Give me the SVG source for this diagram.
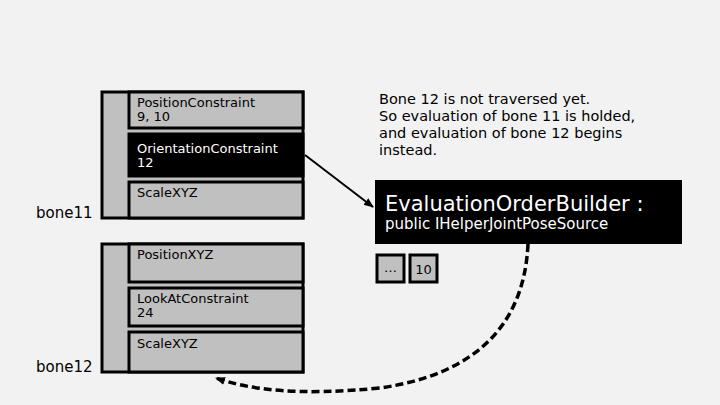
<svg xmlns="http://www.w3.org/2000/svg" width="720" height="405" viewBox="0 0 720 405">
<style>
text{font-family:"DejaVu Sans","Liberation Sans",sans-serif;fill:#000}
.g{fill:#c0c0c0;stroke:#000;stroke-width:3}
.b{fill:#000;stroke:#000;stroke-width:3}
.t{font-size:13px}
.w{fill:#fff}
</style>
<defs>
<marker id="ah" markerWidth="10" markerHeight="10" refX="9" refY="5" orient="auto" markerUnits="userSpaceOnUse"><path d="M0,1 L10,5 L0,9 Z" fill="#000"/></marker>
</defs>
<rect width="720" height="405" fill="#f2f2f2"/>
<g id="bone11">
<rect class="g" x="102" y="92" width="201" height="126"/>
<rect class="g" x="129" y="92" width="174" height="36"/>
<text class="t" x="137" y="107">PositionConstraint</text>
<text class="t" x="137" y="121">9, 10</text>
<rect class="b" x="129" y="134" width="174" height="42"/>
<text class="t w" x="137" y="153">OrientationConstraint</text>
<text class="t w" x="137" y="167">12</text>
<rect class="g" x="129" y="182" width="174" height="36"/>
<text class="t" x="137" y="197">ScaleXYZ</text>
<text x="36" y="218" font-size="15">bone11</text>
</g>
<g id="bone12">
<rect class="g" x="102" y="244" width="201" height="128"/>
<rect class="g" x="129" y="244" width="174" height="38"/>
<text class="t" x="137" y="259">PositionXYZ</text>
<rect class="g" x="129" y="288" width="174" height="38"/>
<text class="t" x="137" y="303">LookAtConstraint</text>
<text class="t" x="137" y="317">24</text>
<rect class="g" x="129" y="332" width="174" height="40"/>
<text class="t" x="137" y="348">ScaleXYZ</text>
<text x="36" y="372" font-size="15">bone12</text>
</g>
<g id="note">
<text font-size="14.5" x="379" y="104">Bone 12 is not traversed yet.</text>
<text font-size="14.5" x="379" y="121">So evaluation of bone 11 is holded,</text>
<text font-size="14.5" x="379" y="138">and evaluation of bone 12 begins</text>
<text font-size="14.5" x="379" y="155">instead.</text>
</g>
<g id="builder">
<rect x="375" y="180" width="307" height="64" fill="#000"/>
<text class="w" x="385" y="211" font-size="21">EvaluationOrderBuilder :</text>
<text class="w" x="385" y="229" font-size="15">public IHelperJointPoseSource</text>
</g>
<g id="slots">
<rect class="g" x="377" y="255" width="27" height="27"/>
<text class="t" x="390.5" y="272" text-anchor="middle">…</text>
<rect class="g" x="410" y="255" width="27" height="27"/>
<text class="t" x="423.5" y="274" text-anchor="middle">10</text>
</g>
<g id="connectors" fill="none" stroke="#000">
<line x1="305" y1="155" x2="373" y2="207" stroke-width="2" marker-end="url(#ah)"/>
<path d="M528,244 C524,330 470,375 380,388 C300,396 250,390 216,378" stroke-width="3.5" stroke-dasharray="8,4" marker-end="url(#ah)"/>
</g>
</svg>
